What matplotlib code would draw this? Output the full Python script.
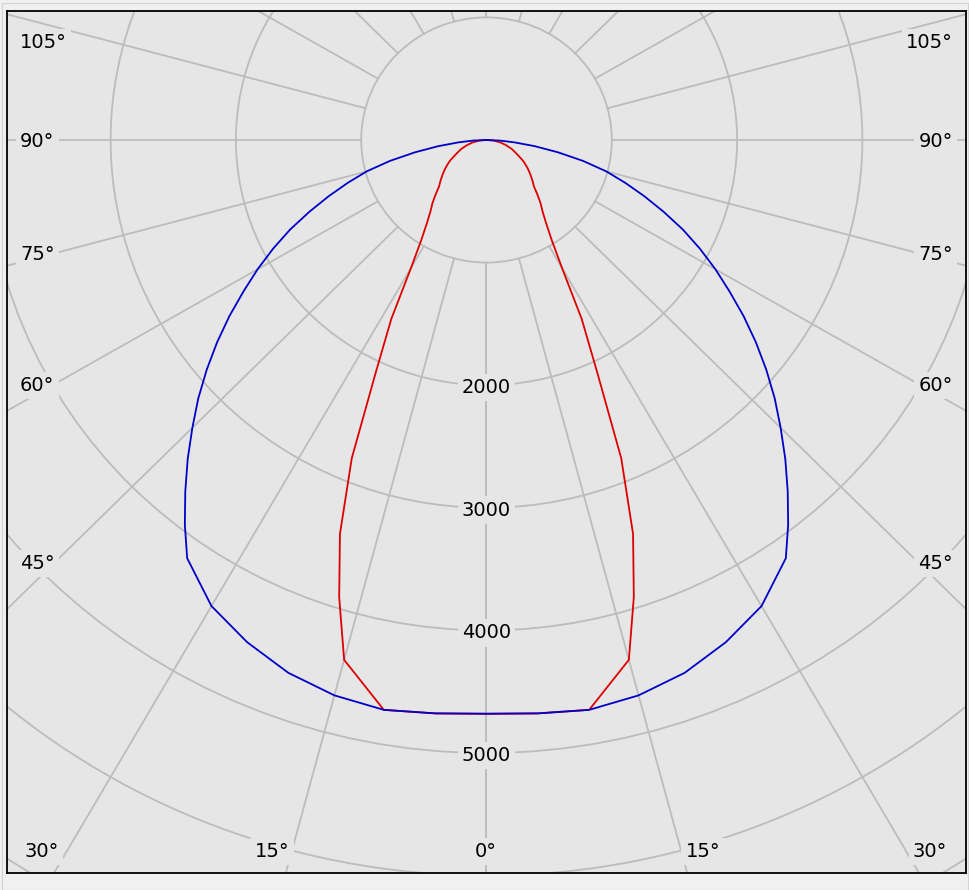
import numpy as np
import matplotlib
matplotlib.use("Agg")
import matplotlib.pyplot as plt
from matplotlib.patches import Circle, Rectangle

# ---- data: luminous intensity (cd) vs gamma angle (deg) ----
gamma_c0 = [0, 5, 10, 15, 20, 25, 30, 35, 37.5, 40, 42.5, 45, 47.5, 50, 52.5,
            55, 57.5, 60, 62.5, 65, 67.5, 70, 72.5, 75, 77.5, 80, 82.5, 85, 87.5, 90]
cd_c0 = [4680, 4695, 4720, 4690, 4625, 4520, 4390, 4165, 3955, 3740, 3530, 3320,
         3120, 2915, 2710, 2505, 2300, 2110, 1920, 1730, 1530, 1340, 1160, 990,
         790, 580, 390, 225, 105, 0]

gamma_c90 = [0, 5, 10, 15, 17.5, 20, 22.5, 25, 27.5, 30, 32.5, 35, 37.5, 40,
             42.5, 45, 47.5, 50, 52.5, 55, 57.5, 60, 65, 70, 75, 80, 85, 90]
cd_c90 = [4680, 4695, 4720, 4390, 3910, 3420, 2810, 2090, 1645, 1205, 970, 830,
          735, 670, 600, 535, 500, 465, 432, 400, 367, 335, 265, 215, 160, 110, 55, 0]

ring_values = [1000, 2000, 3000, 4000, 5000, 6000, 7000]
ring_labels = ["2000", "3000", "4000", "5000"]
spoke_angles = list(range(0, 181, 15))

side_labels = ["105°", "90°", "75°", "60°", "45°"]
side_label_y = [48, 147, 260, 391, 569]          # baselines, px
bottom_labels = ["30°", "15°", "0°", "15°", "30°"]
bottom_label_x = [42, 272, 486, 703, 930]        # centres, px

BG = "#e6e6e6"
GRID = "#bcbcbc"
W, H = 969, 890

fig = plt.figure(figsize=(W / 100, H / 100), dpi=100, facecolor="#f0f0f0")
fig.patches.append(Rectangle((2 / W, 0), (W - 3) / W, 1 - 3 / H, transform=fig.transFigure,
                             fill=False, ec="#d2d2d2", lw=0.8))
ax = fig.add_axes([7 / W, 17 / H, 959 / W, 862 / H])
ax.set_facecolor(BG)
ax.set_xlim(-3827, 3827)
ax.set_ylim(-5979, 1052)
ax.set_xticks([]); ax.set_yticks([])
for s in ax.spines.values():
    s.set_color("black"); s.set_linewidth(1.3)

# grid: rings + spokes (spokes start at the first ring)
for rv in ring_values:
    ax.add_patch(Circle((0, 0), rv, fill=False, ec=GRID, lw=1.3, zorder=1))
for a in spoke_angles:
    t = np.radians(a)
    for sgn in (-1, 1):
        ax.plot([sgn * 1000 * np.sin(t), sgn * 9000 * np.sin(t)],
                [-1000 * np.cos(t), -9000 * np.cos(t)], color=GRID, lw=1.3, zorder=1)


def curve_xy(gam, cd):
    g = np.radians(np.asarray(gam, float))
    r = np.asarray(cd, float)
    x = np.concatenate([-(r * np.sin(g))[::-1], (r * np.sin(g))[1:]])
    y = np.concatenate([-(r * np.cos(g))[::-1], -(r * np.cos(g))[1:]])
    return x, y


x90, y90 = curve_xy(gamma_c90, cd_c90)
x0, y0 = curve_xy(gamma_c0, cd_c0)
ax.plot(x90, y90, color="#dd0000", lw=1.3, zorder=3)
ax.plot(x0, y0, color="#0000c8", lw=1.3, zorder=4)

box = dict(boxstyle="square,pad=0.22", fc=BG, ec="none")
for lab in ring_labels:
    ax.annotate(lab, xy=(0, -float(lab)), xytext=(0, -8), textcoords="offset pixels",
                ha="center", va="baseline", fontsize=14, bbox=box, zorder=5)

for lab, yb in zip(side_labels, side_label_y):
    fig.text(20 / W, 1 - yb / H, lab, ha="left", va="baseline", fontsize=14, bbox=box)
    fig.text(953 / W, 1 - yb / H, lab, ha="right", va="baseline", fontsize=14, bbox=box)
for lab, xc in zip(bottom_labels, bottom_label_x):
    fig.text(xc / W, 1 - 857 / H, lab, ha="center", va="baseline", fontsize=14, bbox=box)

fig.savefig("out.png", dpi=100, facecolor=fig.get_facecolor())
